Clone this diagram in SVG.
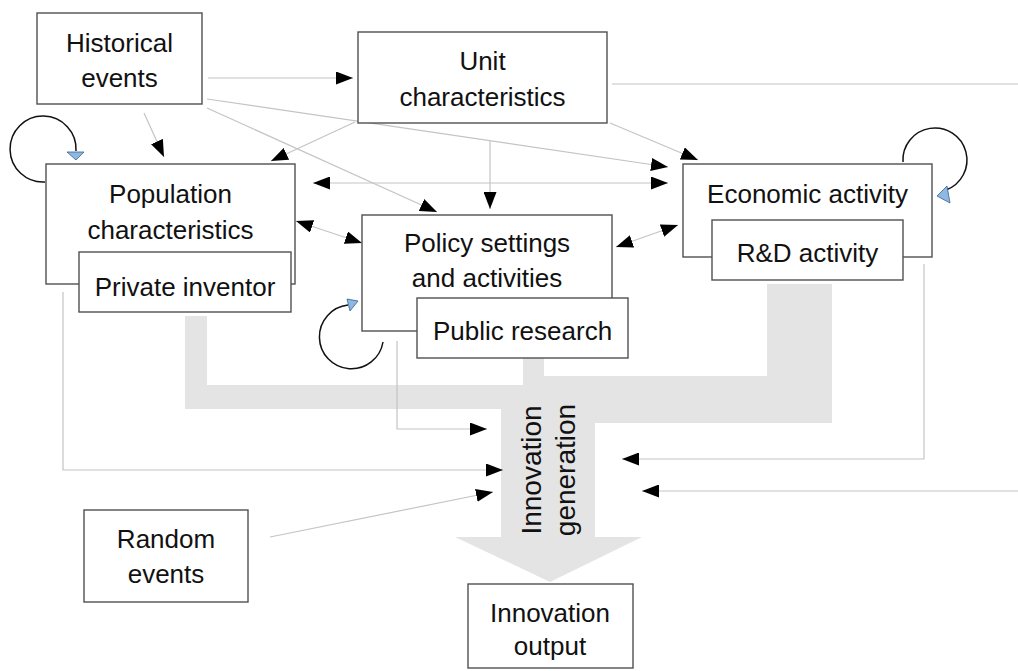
<svg xmlns="http://www.w3.org/2000/svg" width="1018" height="671" viewBox="0 0 1018 671">
<style>
.box{fill:#fff;stroke:#505050;stroke-width:1.4}
.lbl{font-family:"Liberation Sans",Arial,sans-serif;font-size:26px;fill:#111;text-anchor:middle}
.vlbl{font-family:"Liberation Sans",Arial,sans-serif;font-size:28px;fill:#111;text-anchor:middle}
.cn{fill:none;stroke:#c4c4c4;stroke-width:1.2}
.loop{fill:none;stroke:#111;stroke-width:1.5}
.bh{fill:#8db8e4;stroke:#3a5f8a;stroke-width:0.8}
</style>
<defs>
<marker id="ah" markerWidth="17" markerHeight="13" refX="17" refY="6.5" orient="auto-start-reverse" markerUnits="userSpaceOnUse">
<path d="M0,0 L17,6.5 L0,13 z" fill="#000"/>
</marker>
</defs>
<rect width="1018" height="671" fill="#fff"/>
<g id="flow">
<path d="M185,316 L207,316 L207,385 L523,385 L523,358 L544,358 L544,376 L767,376 L767,284 L832,284 L832,423 L595,423 L595,537 L642,537 L550,582 L455,537 L501,537 L501,409 L185,409 Z" fill="#e4e4e4"/>
<text class="vlbl" transform="translate(541,470) rotate(-90)">Innovation</text>
<text class="vlbl" transform="translate(575,470) rotate(-90)">generation</text>
</g>
<g id="connectors">
<line class="cn" x1="208" y1="78" x2="353" y2="78" marker-end="url(#ah)"/>
<line class="cn" x1="144" y1="113" x2="164" y2="157" marker-end="url(#ah)"/>
<line class="cn" x1="207" y1="99" x2="668" y2="167" marker-end="url(#ah)"/>
<line class="cn" x1="207" y1="108" x2="437" y2="212" marker-end="url(#ah)"/>
<line class="cn" x1="355" y1="122" x2="271" y2="161" marker-end="url(#ah)"/>
<line class="cn" x1="490" y1="141" x2="490" y2="209" marker-end="url(#ah)"/>
<line class="cn" x1="610" y1="123" x2="698" y2="160" marker-end="url(#ah)"/>
<line class="cn" x1="313" y1="183" x2="668" y2="183" marker-start="url(#ah)" marker-end="url(#ah)"/>
<line class="cn" x1="296" y1="221" x2="362" y2="243" marker-start="url(#ah)" marker-end="url(#ah)"/>
<line class="cn" x1="616" y1="247" x2="678" y2="225" marker-start="url(#ah)" marker-end="url(#ah)"/>
<path class="cn" d="M63,292 L63,470 L503,470" marker-end="url(#ah)"/>
<path class="cn" d="M397,341 L397,429 L487,429" marker-end="url(#ah)"/>
<line class="cn" x1="270" y1="537" x2="493" y2="492" marker-end="url(#ah)"/>
<path class="cn" d="M924,264 L924,459 L622,459" marker-end="url(#ah)"/>
<line class="cn" x1="612" y1="84" x2="1018" y2="84"/>
<line class="cn" x1="1018" y1="491" x2="642" y2="491" marker-end="url(#ah)"/>
<path class="loop" d="M45,182 A33,33 0 1 1 76,151"/>
<path class="bh" d="M67,152 L84,152 L76,160 Z"/>
<path class="loop" d="M383,342 A32,32 0 1 1 348,305"/>
<path class="bh" d="M347,299 L358,301 L350,311 Z"/>
<path class="loop" d="M903,162 A32,32 0 1 1 946,190"/>
<path class="bh" d="M937,196 L947,186 L950,203 Z"/>
</g>
<g id="historical">
<rect class="box" x="37" y="13" width="165" height="91"/>
<text class="lbl" x="119.5" y="52">Historical</text>
<text class="lbl" x="119.5" y="87">events</text>
</g>
<g id="unit">
<rect class="box" x="358" y="32" width="249" height="91"/>
<text class="lbl" x="482.5" y="70">Unit</text>
<text class="lbl" x="482.5" y="106">characteristics</text>
</g>
<g id="population">
<rect class="box" x="46" y="164" width="249" height="120"/>
<text class="lbl" x="170.5" y="203">Population</text>
<text class="lbl" x="170.5" y="239">characteristics</text>
</g>
<g id="private">
<rect class="box" x="79" y="252" width="212" height="60"/>
<text class="lbl" x="185" y="296">Private inventor</text>
</g>
<g id="policy">
<rect class="box" x="362" y="215" width="250" height="116"/>
<text class="lbl" x="487" y="252">Policy settings</text>
<text class="lbl" x="487" y="287">and activities</text>
</g>
<g id="public">
<rect class="box" x="417" y="298" width="211" height="60"/>
<text class="lbl" x="522.5" y="340">Public research</text>
</g>
<g id="economic">
<rect class="box" x="683" y="164" width="249" height="93"/>
<text class="lbl" x="807.5" y="203">Economic activity</text>
</g>
<g id="rnd">
<rect class="box" x="712" y="220" width="191" height="60"/>
<text class="lbl" x="807.5" y="262">R&amp;D activity</text>
</g>
<g id="random">
<rect class="box" x="84" y="510" width="164" height="92"/>
<text class="lbl" x="166" y="548">Random</text>
<text class="lbl" x="166" y="583">events</text>
</g>
<g id="output">
<rect class="box" x="468" y="584" width="165" height="84"/>
<text class="lbl" x="550" y="622">Innovation</text>
<text class="lbl" x="550" y="655">output</text>
</g>
</svg>
